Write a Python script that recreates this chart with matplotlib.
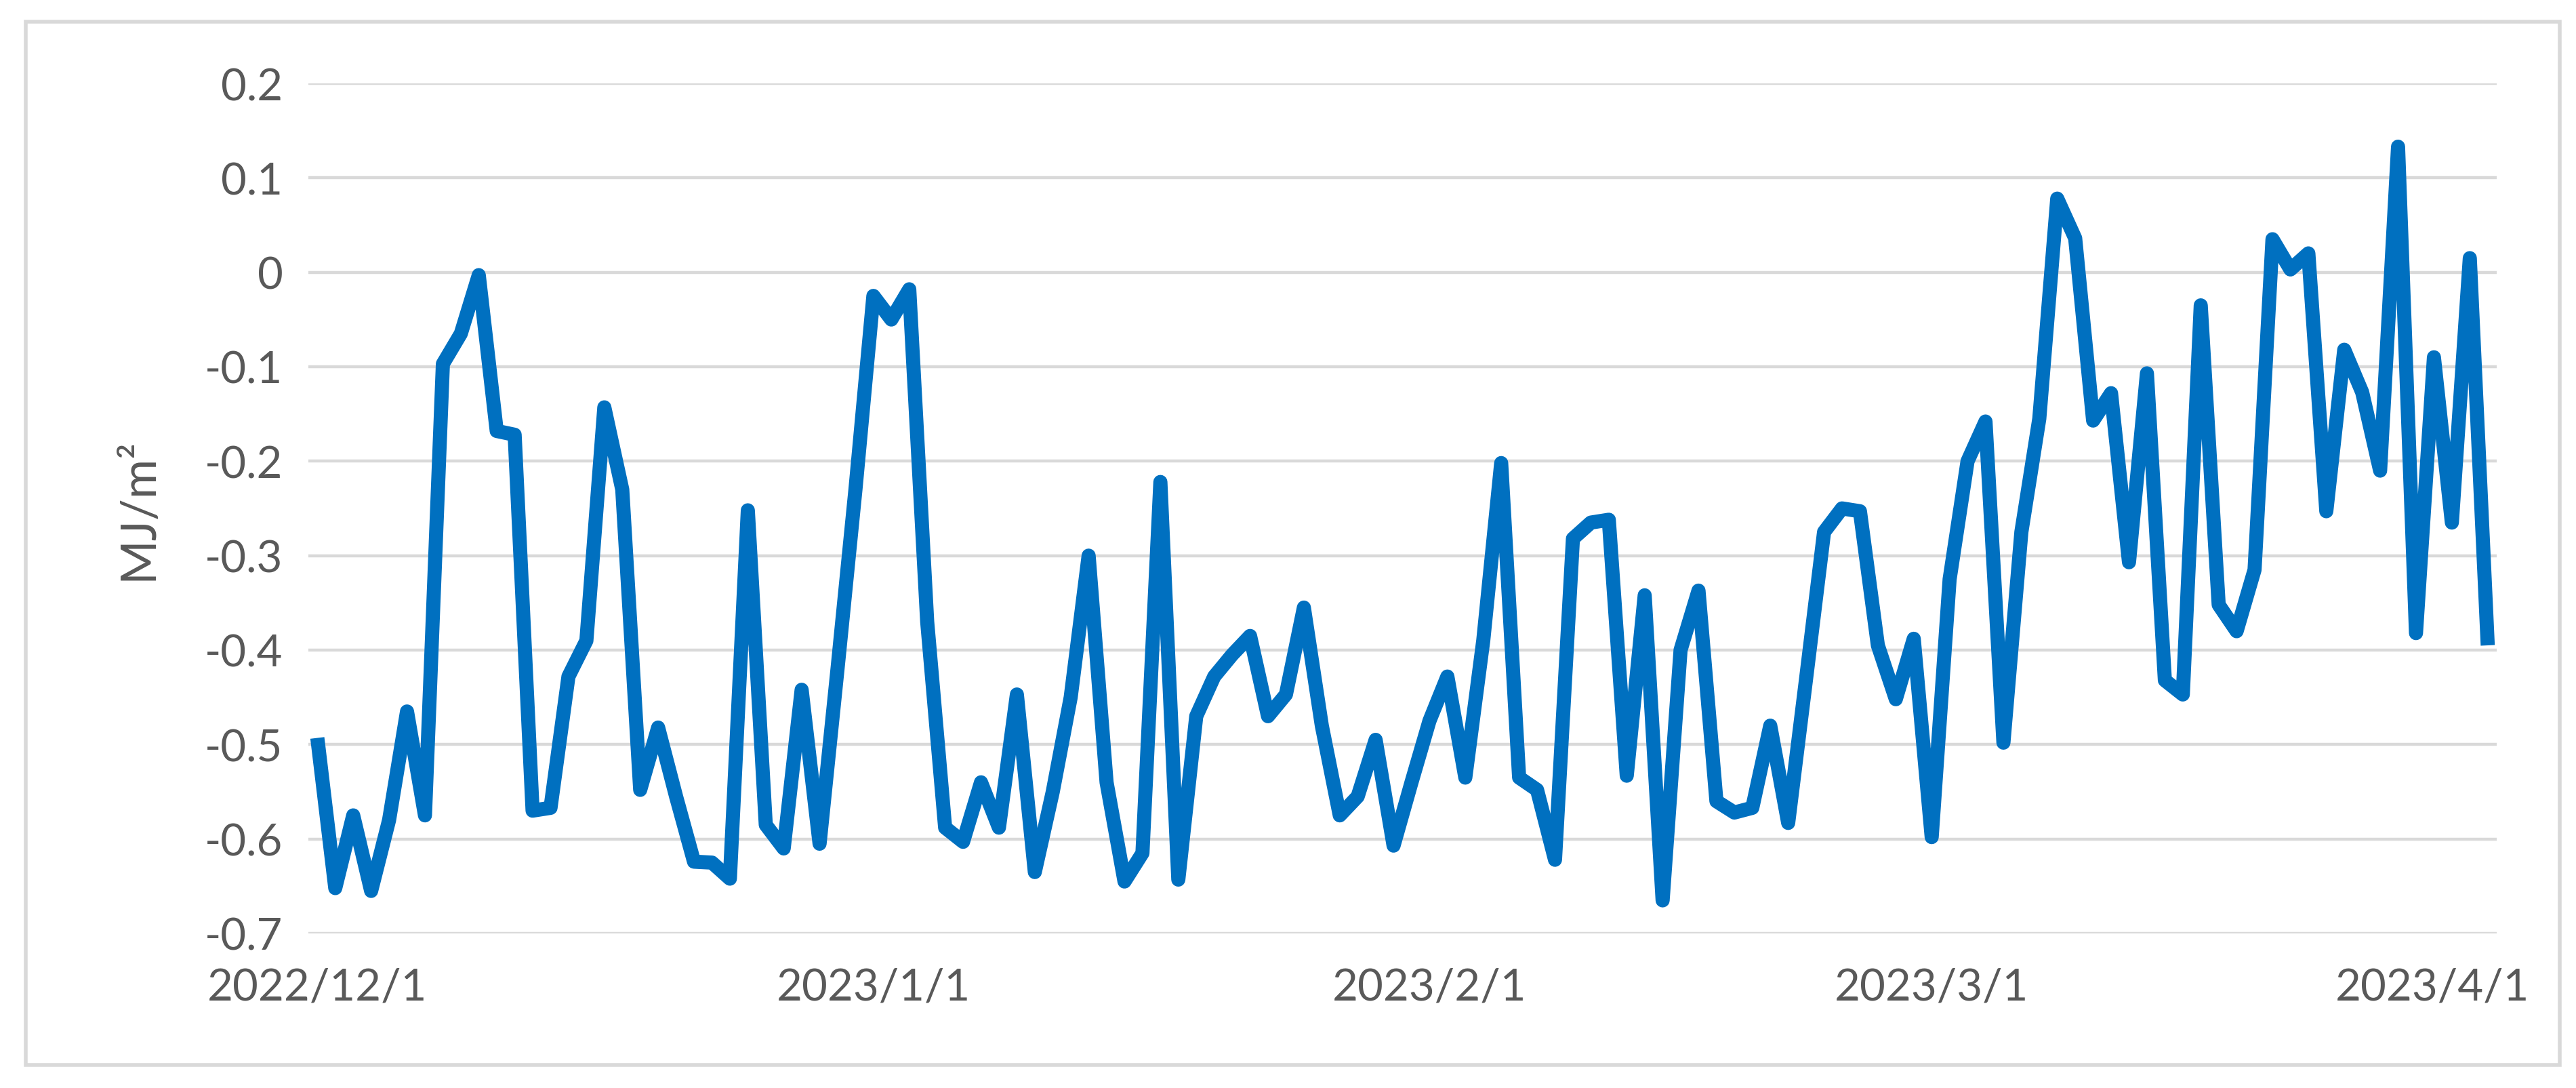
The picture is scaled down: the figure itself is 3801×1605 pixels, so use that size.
import matplotlib
matplotlib.use("Agg")
import matplotlib.pyplot as plt
from matplotlib.patches import Rectangle
from matplotlib.transforms import ScaledTranslation
import pandas as pd

# daily series, 2022/12/1 .. 2023/4/1
dates = pd.date_range("2022-12-01", "2023-04-01", freq="D")
dec_vals = [-0.493, -0.652, -0.575, -0.655, -0.58, -0.465, -0.575, -0.097, -0.065, -0.003,
            -0.168, -0.172, -0.57, -0.567, -0.428, -0.39, -0.143, -0.23, -0.548, -0.482,
            -0.555, -0.624, -0.625, -0.642, -0.252, -0.585, -0.61, -0.442, -0.605, -0.42,
            -0.23]
jan_vals = [-0.025, -0.05, -0.018, -0.37, -0.588, -0.603, -0.54, -0.588, -0.447, -0.635,
            -0.55, -0.45, -0.30, -0.54, -0.645, -0.615, -0.222, -0.643, -0.47, -0.428,
            -0.405, -0.385, -0.47, -0.447, -0.355, -0.48, -0.575, -0.555, -0.495, -0.607,
            -0.54]
feb_vals = [-0.475, -0.428, -0.535, -0.39, -0.202, -0.535, -0.548, -0.622, -0.282, -0.265,
            -0.262, -0.533, -0.342, -0.665, -0.40, -0.337, -0.56, -0.572, -0.567, -0.48,
            -0.583, -0.43, -0.275, -0.25, -0.253, -0.395, -0.452, -0.388]
mar_vals = [-0.598, -0.325, -0.2, -0.158, -0.498, -0.275, -0.155, 0.078, 0.036, -0.157,
            -0.128, -0.307, -0.107, -0.432, -0.447, -0.035, -0.352, -0.38, -0.315, 0.035,
            0.003, 0.02, -0.253, -0.082, -0.127, -0.21, 0.133, -0.382, -0.09, -0.265,
            0.015]
apr_vals = [-0.395]
values = dec_vals + jan_vals + feb_vals + mar_vals + apr_vals

tick_dates = pd.to_datetime(["2022-12-01", "2023-01-01", "2023-02-01", "2023-03-01", "2023-04-01"])
tick_labels = [f"{d.year}/{d.month}/{d.day}" for d in tick_dates]
y_ticks = [0.2, 0.1, 0, -0.1, -0.2, -0.3, -0.4, -0.5, -0.6, -0.7]
y_labels = ["0.2", "0.1", "0", "-0.1", "-0.2", "-0.3", "-0.4", "-0.5", "-0.6", "-0.7"]

TEXT = "#595959"
GRID = "#D9D9D9"
LINE = "#0070C0"

plt.rcParams["font.family"] = ["Lato", "DejaVu Sans"]

fig = plt.figure(figsize=(38.01, 16.06), dpi=100)
ax = fig.add_axes([455 / 3801, 1 - 1378 / 1606, (3684 - 455) / 3801, (1378 - 124) / 1606])

ax.plot(dates, values, color=LINE, linewidth=15, solid_joinstyle="round", solid_capstyle="butt")

ax.set_ylim(-0.7, 0.2)
ax.set_xlim(dates[0] - pd.Timedelta(hours=12), dates[-1] + pd.Timedelta(hours=12))
ax.set_yticks(y_ticks)
ax.set_yticklabels(y_labels)
ax.set_xticks(tick_dates)
ax.set_xticklabels(tick_labels)

ax.grid(axis="y", color=GRID, linewidth=3.2)
ax.set_axisbelow(True)
for s in ax.spines.values():
    s.set_visible(False)
ax.tick_params(axis="both", length=0, labelsize=47, colors=TEXT)
ax.tick_params(axis="y", pad=27)
ax.tick_params(axis="x", pad=36)

# last date label is pulled inside the chart area, like the original
last = ax.get_xticklabels()[-1]
last.set_horizontalalignment("right")
last.set_transform(last.get_transform() + ScaledTranslation(0.61, 0, fig.dpi_scale_trans))

ax.set_ylabel("MJ/m²", fontsize=51, color=TEXT)
ax.yaxis.set_label_coords((237 - 455) / 3229, 0.5)

fig.add_artist(Rectangle((38 / 3801, 1 - 1572 / 1606), (3777 - 38) / 3801, (1572 - 33) / 1606,
                         transform=fig.transFigure, fill=False, edgecolor=GRID, linewidth=4))

fig.savefig("out.png", dpi=100, facecolor="white")
